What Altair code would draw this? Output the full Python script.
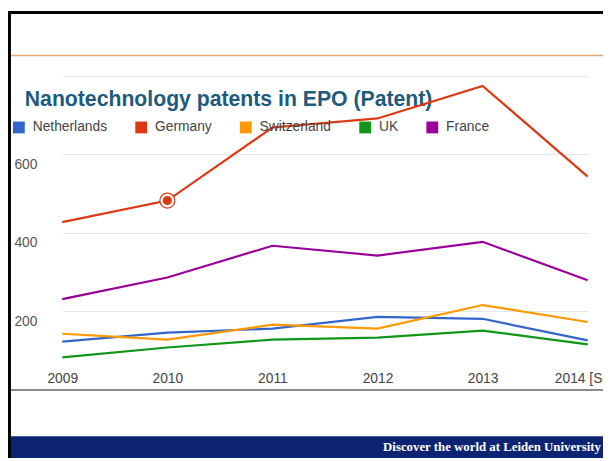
import altair as alt
import pandas as pd

# ---- data ----
years = ["2009", "2010", "2011", "2012", "2013", "2014"]
x_labels = ["2009", "2010", "2011", "2012", "2013", "2014 [Sep]"]
countries = ["Netherlands", "Germany", "Switzerland", "UK", "France"]
colors = ["#3366cc", "#dc3912", "#ff9900", "#109618", "#990099"]

netherlands = [123, 146, 156, 186, 181, 126]
germany = [427, 482, 668, 691, 774, 543]
switzerland = [143, 128, 166, 156, 216, 173]
uk = [83, 108, 128, 133, 151, 116]
france = [231, 286, 367, 342, 377, 279]

highlight_country = "Germany"
highlight_year = "2010"

y_ticks = [200, 400, 600, 800]
y_tick_labels = ["200", "400", "600", ""]

title_text = "Nanotechnology patents in EPO (Patent)"
footer_text = "Discover the world at Leiden University"

series = {
    "Netherlands": netherlands,
    "Germany": germany,
    "Switzerland": switzerland,
    "UK": uk,
    "France": france,
}
rows = []
for c in countries:
    for y, v in zip(years, series[c]):
        rows.append({"country": c, "year": y, "value": v})
df = pd.DataFrame(rows)
one = pd.DataFrame({"k": [0]})

W, H = 603, 453
FONT = "Liberation Sans"

x_expr = "".join(f"datum.value == '{y}' ? '{l}' : " for y, l in zip(years, x_labels)) + "datum.label"
y_expr = "".join(f"datum.value == {v} ? '{l}' : " for v, l in zip(y_ticks, y_tick_labels)) + "datum.label"

x_enc = alt.X(
    "year:O",
    scale=alt.Scale(type="point", domain=years, range=[55, 587.5], padding=0),
    axis=alt.Axis(
        orient="bottom", offset=-69, domain=False, ticks=False, tickSize=0,
        labelPadding=-5, labelBaseline="bottom", labelAngle=0, grid=False,
        labelFont=FONT, labelFontSize=14, labelColor="#444", title=None,
        labelExpr=x_expr, labelOverlap=False,
    ),
)
y_enc = alt.Y(
    "value:Q",
    scale=alt.Scale(domain=[0, 800], range=[384, 65.5], nice=False, zero=False),
    axis=alt.Axis(
        orient="left", values=y_ticks, grid=True, gridColor="#e6e6e6", gridWidth=1,
        domain=False, ticks=False, tickSize=0, labelAlign="left", labelPadding=-6,
        labelBaseline="top", labelOffset=3, labelFont=FONT, labelFontSize=14,
        labelColor="#555", title=None, labelExpr=y_expr,
    ),
)
color_scale = alt.Scale(domain=countries, range=colors)
legend = alt.Legend(
    title=None, orient="none", legendX=4, legendY=111, direction="horizontal",
    symbolType="square", symbolSize=144, symbolStrokeWidth=0, symbolOpacity=1,
    labelFont=FONT, labelFontSize=14, labelColor="#444", labelOffset=7,
    columnPadding=27, padding=0,
)

base = alt.Chart(df)

legend_layer = base.mark_square(size=144, opacity=1, filled=True).encode(
    x=x_enc, y=y_enc,
    color=alt.Color("country:N", scale=color_scale, legend=legend),
).transform_filter("false")

lines = base.mark_line(strokeWidth=2.2).encode(
    x=x_enc, y=y_enc,
    color=alt.Color("country:N", scale=color_scale, legend=legend),
)

hl = base.transform_filter(
    f"datum.country == '{highlight_country}' && datum.year == '{highlight_year}'"
)
hl_outer = hl.mark_point(shape="circle", size=230, filled=True, fill="#ffffff",
                         stroke="#dc3912", strokeWidth=1.2, opacity=1).encode(x=x_enc, y=y_enc)
hl_inner = hl.mark_point(shape="circle", size=85, filled=True, color="#dc3912",
                         opacity=1).encode(x=x_enc, y=y_enc)

baseline = alt.Chart(one).mark_rule(color="#8a8a8a", strokeWidth=2).encode(
    y=alt.datum(0), x=alt.value(2), x2=alt.value(W)
)
orange_rule = alt.Chart(one).mark_rule(color="#e3a77c", strokeWidth=1.5).encode(
    y=alt.value(45), x=alt.value(0), x2=alt.value(W)
)
left_border = alt.Chart(one).mark_rule(color="#000000", strokeWidth=3).encode(
    x=alt.value(1.5), y=alt.value(0), y2=alt.value(H)
)
top_border = alt.Chart(one).mark_rule(color="#000000", strokeWidth=3).encode(
    y=alt.value(1.5), x=alt.value(0), x2=alt.value(W)
)
footer_band = alt.Chart(one).mark_rect(color="#0d2473").encode(
    x=alt.value(0), x2=alt.value(W), y=alt.value(431), y2=alt.value(H)
)
footer = alt.Chart(one).mark_text(
    text=footer_text, align="right", baseline="alphabetic", font="Liberation Serif",
    fontSize=13, fontWeight="bold", color="#ffffff"
).encode(x=alt.value(601), y=alt.value(446))
title = alt.Chart(one).mark_text(
    text=title_text, align="left", baseline="alphabetic", font=FONT,
    fontSize=21.5, fontWeight="bold", color="#1d5b7d"
).encode(x=alt.value(17), y=alt.value(96))

chart = alt.layer(
    legend_layer, orange_rule, footer_band, footer, title, baseline, lines,
    hl_outer, hl_inner, left_border, top_border,
).properties(
    width=W, height=H,
    autosize=alt.AutoSizeParams(type="none"),
    padding=0,
    background="#ffffff",
).configure_view(stroke=None)

chart.save("out.html", embed_options={"renderer": "svg", "actions": False})
